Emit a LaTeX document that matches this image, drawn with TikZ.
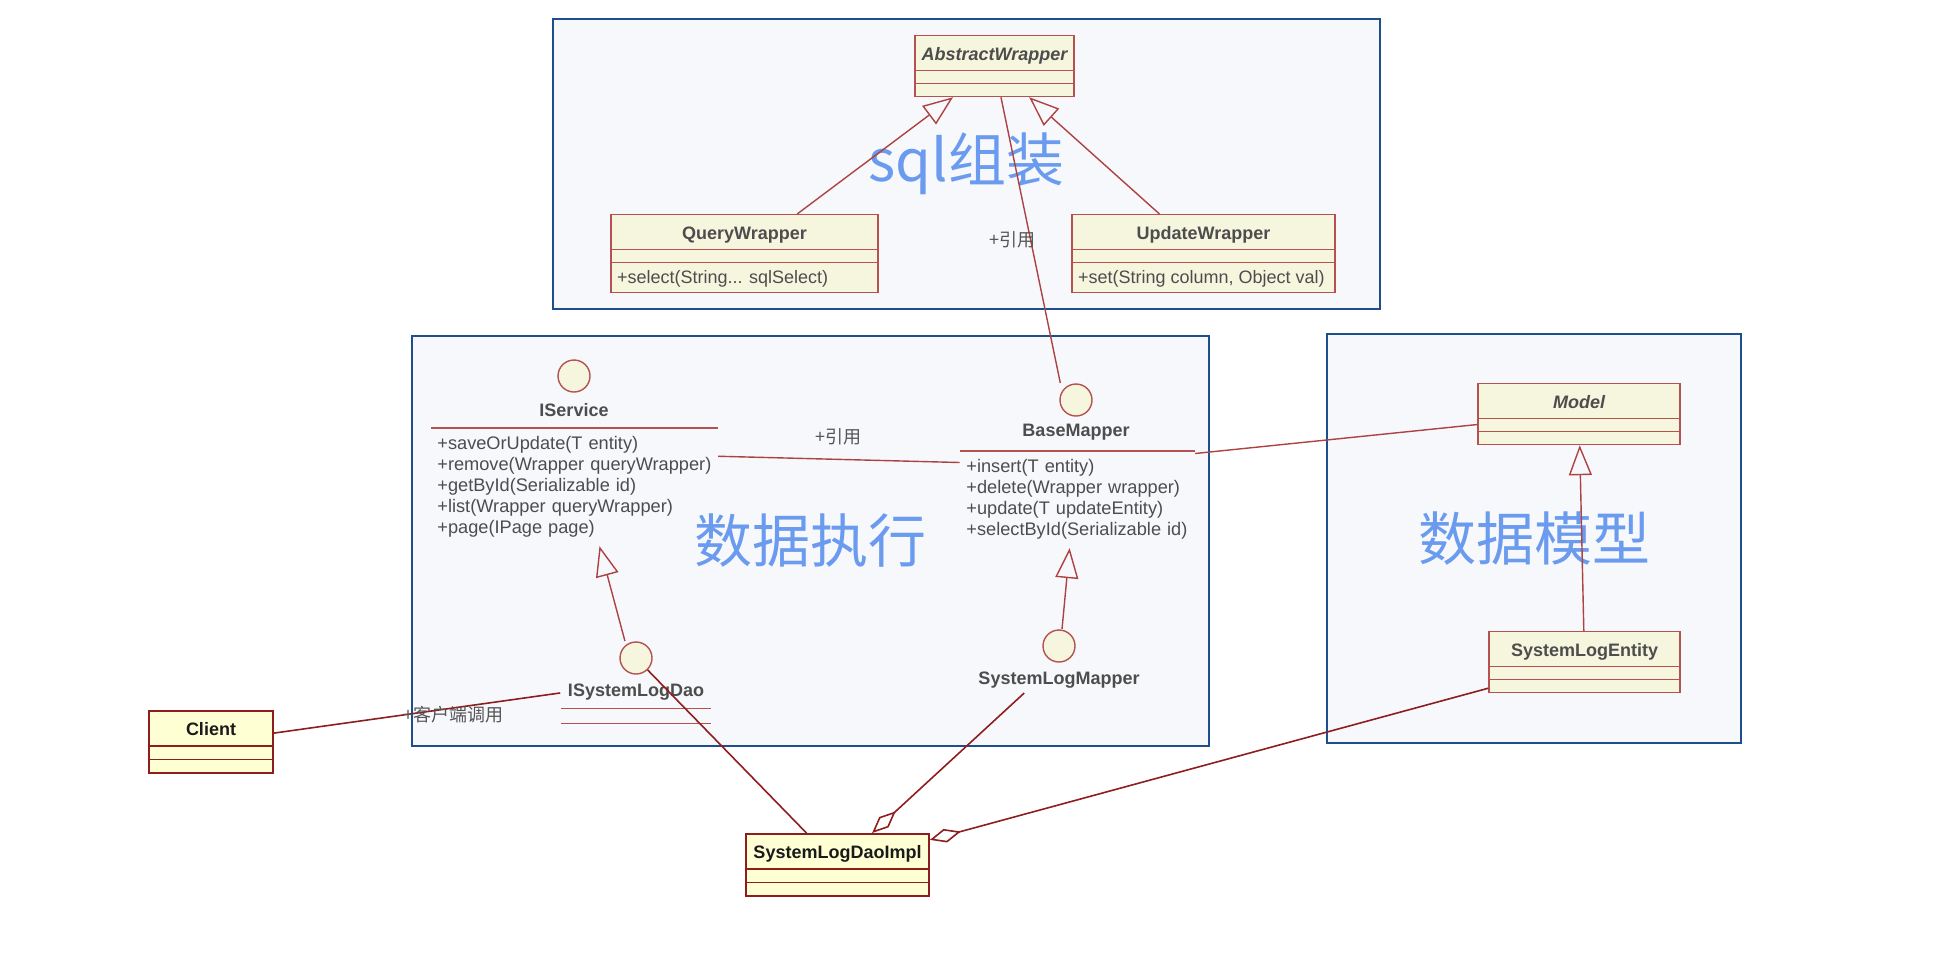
\documentclass[tikz,border=0pt]{standalone}
\usepackage{fontspec}
\setmainfont{Liberation Sans}
\newfontfamily\cjk{Noto Sans CJK SC}
\usetikzlibrary{arrows.meta, positioning, shapes.multipart, fit, calc}
\definecolor{grpblue}{HTML}{1F4E8C}
\definecolor{grpfill}{HTML}{F7F8FC}
\definecolor{grptext}{HTML}{6A9BEF}
\definecolor{clsfill}{HTML}{F6F6DF}
\definecolor{clsline}{HTML}{B5514F}
\definecolor{clstext}{HTML}{4D4D4D}
\definecolor{keyfill}{HTML}{FFFFD4}
\definecolor{keyline}{HTML}{8E1E1E}
\definecolor{keytext}{HTML}{1A1A1A}
\definecolor{linkred}{HTML}{AD4242}
\definecolor{notegray}{HTML}{555555}
\newcommand{\clshead}[1]{\rule[-4.9pt]{0pt}{16.7pt}#1}
\newcommand{\clsops}[1]{\mdseries\rule[-4.2pt]{0pt}{14.2pt}#1}

\begin{document}
\begin{tikzpicture}[
  x=0.5pt, y=-0.5pt,
  grpbox/.style={rectangle, draw=grpblue, fill=grpfill, line width=1.1pt, text=grptext, font=\cjk\fontsize{29}{34}\selectfont},
  umlcls/.style={rectangle split, rectangle split parts=3, rectangle split part align={center,left,left}, rectangle split empty part height=5.8pt, rectangle split empty part depth=0pt, draw=clsline, fill=clsfill, line width=0.7pt, inner xsep=3pt, inner ysep=0pt, text=clstext, font=\fontsize{9}{10.5}\selectfont\bfseries, anchor=north},
  keycls/.style={umlcls, draw=keyline, fill=keyfill, text=keytext, line width=0.9pt},
  iface/.style={circle, draw=clsline, fill=clsfill, line width=0.7pt, minimum size=16pt, inner sep=0pt},
  ifname/.style={text=clstext, font=\fontsize{9}{10.5}\selectfont\bfseries, inner sep=2pt},
  ifops/.style={anchor=north west, align=left, text=clstext, font=\fontsize{9.1}{10.5}\selectfont, inner xsep=3pt, inner ysep=4pt},
  ifall/.style={fit=#1, inner sep=0pt},
  sepline/.style={clsline, line width=0.7pt},
  link/.style={linkred, line width=0.7pt},
  genlink/.style={link, -{Triangle[open, length=15pt, width=11.5pt]}},
  keylink/.style={keyline, line width=0.8pt},
  agglink/.style={keylink, -{Diamond[open, length=16pt, width=7pt]}},
  note/.style={text=notegray, font=\cjk\fontsize{9}{10.5}\selectfont, inner sep=0pt},
]
\useasboundingbox (0,0) rectangle (1952,966);

% groups
\node[grpbox, minimum width=413.5pt, minimum height=145pt] (sqlgrp) at (966.5,164) {sql组装};
\node[grpbox, minimum width=398.5pt, minimum height=205pt] (execgrp) at (810.5,541) {数据执行};
\node[grpbox, minimum width=207pt, minimum height=204.5pt] (modelgrp) at (1534,538.5) {数据模型};

% classes
\node[umlcls, minimum width=79.5pt] (aw) at (994.5,35) {\clshead{\itshape AbstractWrapper}};
\node[umlcls, minimum width=133.5pt] (qw) at (744.5,214) {\clshead{QueryWrapper}\nodepart{three}\clsops{+select(String... sqlSelect)}};
\node[umlcls, minimum width=131.5pt] (uw) at (1203.5,214) {\clshead{UpdateWrapper}\nodepart{three}\clsops{+set(String column, Object val)}};
\node[umlcls, minimum width=101pt] (model) at (1579,383) {\clshead{\itshape Model}};
\node[umlcls, minimum width=95.5pt] (entity) at (1584.5,631) {\clshead{SystemLogEntity}};
\node[keycls, minimum width=62pt] (client) at (211,710) {\clshead{Client}};
\node[keycls, minimum width=91.5pt] (impl) at (837.5,833) {\clshead{SystemLogDaoImpl}};

% interfaces
\node[iface] (isvc) at (574,376) {};
\node[ifname] (isvcname) at (574,410) {IService};
\node[ifops, text width=137pt] (isvcops) at (431,428) {+saveOrUpdate(T entity)\\+remove(Wrapper queryWrapper)\\+getById(Serializable id)\\+list(Wrapper queryWrapper)\\+page(IPage page)};
\draw[sepline] (isvcops.north west) -- (isvcops.north east);
\node[ifall={(isvc)(isvcops)}] (isvcall) {};

\node[iface] (bm) at (1076,400) {};
\node[ifname] (bmname) at (1076,432) {BaseMapper};
\node[ifops, text width=111pt] (bmops) at (960,451) {+insert(T entity)\\+delete(Wrapper wrapper)\\+update(T updateEntity)\\+selectById(Serializable id)};
\draw[sepline] (bmops.north west) -- (bmops.north east);
\node[ifall={(bm)(bmops)}] (bmall) {};

\node[iface] (isd) at (636,658) {};
\node[ifname] (isdname) at (636,692) {ISystemLogDao};
\node[minimum width=75pt, minimum height=7pt, inner sep=0pt] (isdslot) at (636,716) {};
\draw[sepline] (isdslot.north west) -- (isdslot.north east) (isdslot.south west) -- (isdslot.south east);
\node[ifall={(isd)(isdslot)}] (isdall) {};

\node[iface] (slm) at (1059,646) {};
\node[ifname] (slmname) at (1059,680) {SystemLogMapper};
\node[ifall={(slm)(slmname)}] (slmall) {};

% relations
\draw[genlink] (qw) -- (aw);
\draw[genlink] (uw) -- (aw);
\draw[link] (bmall) -- (aw) node[note, midway, left, xshift=3pt] {+引用};
\draw[link] (isvcall) -- (bmall) node[note, midway, above=7pt] {+引用};
\draw[link] (bmall) -- (model);
\draw[genlink] (isdall) -- (isvcall);
\draw[genlink] (slmall) -- (bmall);
\draw[genlink] (entity) -- (model);
\draw[keylink] (client) -- (isdall) node[note, pos=0.45, anchor=west] {+客户端调用};
\draw[keylink] (isd) -- (impl);
\draw[agglink] (slmall) -- (impl);
\draw[agglink] (entity) -- (impl);

\end{tikzpicture}
\end{document}
